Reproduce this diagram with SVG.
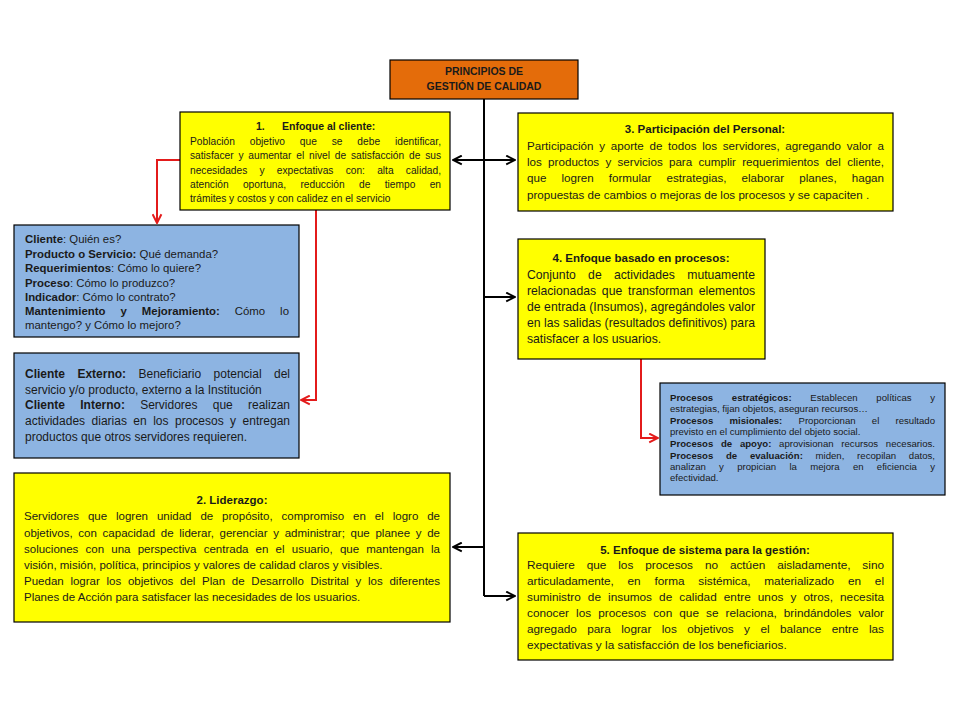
<svg xmlns="http://www.w3.org/2000/svg" width="960" height="720" viewBox="0 0 960 720">
<style>
.box{stroke:#000;stroke-width:1.2}
.y{fill:#FFFF00}
.b{fill:#8DB4E2}
.o{fill:#E46C0A}
text{font-family:"Liberation Sans",Arial,sans-serif;fill:#1a1a1a}
.t{font-weight:bold}
.c{text-anchor:middle}
.f1{font-size:10.2px}
.f3{font-size:11.6px}
.fa{font-size:11.4px}
.fb{font-size:12px}
.f4{font-size:12.2px}
.fp{font-size:9.6px}
.f2{font-size:11.5px}
.f5{font-size:11.8px}
.s105{font-size:10.5px}
.s11{font-size:11.5px}
.bl{stroke:#000;stroke-width:2;fill:none}
.rd{stroke:#E31B1B;stroke-width:2;fill:none}
</style>
<defs>
<marker id="ab" viewBox="0 0 10 10" refX="9" refY="5" markerWidth="11" markerHeight="11" markerUnits="userSpaceOnUse" orient="auto-start-reverse">
<path d="M1,1 L9,5 L1,9" fill="none" stroke="#000" stroke-width="1.8"/>
</marker>
<marker id="ar" viewBox="0 0 10 10" refX="9" refY="5" markerWidth="11" markerHeight="11" markerUnits="userSpaceOnUse" orient="auto-start-reverse">
<path d="M1,1 L9,5 L1,9" fill="none" stroke="#E31B1B" stroke-width="1.8"/>
</marker>
</defs>
<rect width="960" height="720" fill="#fff"/>

<g id="connectors">
<path class="bl" d="M484,99 V596"/>
<path class="bl" d="M453,160 H515" marker-start="url(#ab)" marker-end="url(#ab)"/>
<path class="bl" d="M484,297 H515" marker-end="url(#ab)"/>
<path class="bl" d="M484,547 H453" marker-end="url(#ab)"/>
<path class="bl" d="M484,596 H515" marker-end="url(#ab)"/>
<path class="rd" d="M180,160 H157 V223" marker-end="url(#ar)"/>
<path class="rd" d="M316,210 V400 H301" marker-end="url(#ar)"/>
<path class="rd" d="M641,359 V438 H658" marker-end="url(#ar)"/>
</g>

<g id="titulo">
<rect class="box o" x="390" y="60" width="188" height="39"/>
<text class="t c s105" x="484" y="75">PRINCIPIOS DE</text>
<text class="t c s105" x="484" y="90">GESTIÓN DE CALIDAD</text>
</g>

<g id="p1">
<rect class="box y" x="180" y="112" width="270" height="98"/>
<text class="t s105" x="256" y="130">1.</text>
<text class="t s105" x="282" y="130">Enfoque al cliente:</text>
<text class="f1" x="190" y="145" word-spacing="12" textLength="251" lengthAdjust="spacing">Población objetivo que se debe identificar,</text>
<text class="f1" x="190" y="159" word-spacing="2" textLength="251" lengthAdjust="spacing">satisfacer y aumentar el nivel de satisfacción de sus</text>
<text class="f1" x="190" y="174" word-spacing="9.4" textLength="251" lengthAdjust="spacing">necesidades y expectativas con: alta calidad,</text>
<text class="f1" x="190" y="188" word-spacing="11.5" textLength="251" lengthAdjust="spacing">atención oportuna, reducción de tiempo en</text>
<text class="f1" x="190" y="202">trámites y costos y con calidez en el servicio</text>
</g>

<g id="p3">
<rect class="box y" x="518" y="113" width="375" height="98"/>
<text class="t c s11" x="705" y="133">3. Participación  del Personal:</text>
<text class="f3" x="527" y="150" word-spacing="2.5" textLength="357" lengthAdjust="spacing">Participación y aporte de todos los servidores, agregando valor a</text>
<text class="f3" x="527" y="166" word-spacing="3" textLength="357" lengthAdjust="spacing">los productos y servicios para cumplir requerimientos del cliente,</text>
<text class="f3" x="527" y="182" word-spacing="11.9" textLength="357" lengthAdjust="spacing">que logren formular estrategias, elaborar planes, hagan</text>
<text class="f3" x="527" y="199">propuestas de cambios o mejoras de los procesos y se capaciten .</text>
</g>

<g id="cliente">
<rect class="box b" x="14" y="225" width="285" height="112"/>
<text class="fa" x="25" y="243"><tspan class="t">Cliente</tspan>: Quién es?</text>
<text class="fa" x="25" y="258"><tspan class="t">Producto o Servicio:</tspan> Qué demanda?</text>
<text class="fa" x="25" y="272"><tspan class="t">Requerimientos</tspan>: Cómo lo quiere?</text>
<text class="fa" x="25" y="287"><tspan class="t">Proceso</tspan>: Cómo lo produzco?</text>
<text class="fa" x="25" y="301"><tspan class="t">Indicador</tspan>:  Cómo lo contrato?</text>
<text class="fa" x="25" y="315" word-spacing="11.8" textLength="264" lengthAdjust="spacing"><tspan class="t">Mantenimiento y Mejoramiento:</tspan> Cómo lo</text>
<text class="fa" x="25" y="329">mantengo?  y Cómo lo mejoro?</text>
</g>

<g id="tipos-cliente">
<rect class="box b" x="14" y="353" width="285" height="105"/>
<text class="fb" x="25" y="378" word-spacing="9" textLength="265" lengthAdjust="spacing"><tspan class="t">Cliente Externo:</tspan> Beneficiario potencial del</text>
<text class="fb" x="25" y="394">servicio y/o producto, externo a la Institución</text>
<text class="fb" x="25" y="409" word-spacing="11.9" textLength="265" lengthAdjust="spacing"><tspan class="t">Cliente Interno:</tspan> Servidores que realizan</text>
<text class="fb" x="25" y="425" word-spacing="3.1" textLength="265" lengthAdjust="spacing">actividades diarias en los procesos y entregan</text>
<text class="fb" x="25" y="441">productos que otros servidores requieren.</text>
</g>

<g id="p4">
<rect class="box y" x="518" y="239" width="247" height="120"/>
<text class="t c s11" x="641" y="262">4. Enfoque basado  en procesos:</text>
<text class="f4" x="527" y="279" word-spacing="8.9" textLength="228" lengthAdjust="spacing">Conjunto de actividades mutuamente</text>
<text class="f4" x="527" y="295" word-spacing="2.5" textLength="228" lengthAdjust="spacing">relacionadas que transforman elementos</text>
<text class="f4" x="527" y="311" textLength="228" lengthAdjust="spacing">de entrada (Insumos), agregándoles valor</text>
<text class="f4" x="527" y="327" textLength="228" lengthAdjust="spacing">en las salidas (resultados definitivos) para</text>
<text class="f4" x="527" y="343">satisfacer a los usuarios.</text>
</g>

<g id="procesos">
<rect class="box b" x="660" y="383" width="285" height="112"/>
<text class="fp" x="670" y="401" word-spacing="16" textLength="265" lengthAdjust="spacing"><tspan class="t">Procesos estratégicos:</tspan> Establecen políticas y</text>
<text class="fp" x="670" y="412">estrategias, fijan objetos, aseguran recursos…</text>
<text class="fp" x="670" y="424" word-spacing="13.5" textLength="265" lengthAdjust="spacing"><tspan class="t">Procesos misionales:</tspan> Proporcionan el resultado</text>
<text class="fp" x="670" y="435">previsto en el cumplimiento del objeto social.</text>
<text class="fp" x="670" y="447" word-spacing="5" textLength="265" lengthAdjust="spacing"><tspan class="t">Procesos de apoyo:</tspan> aprovisionan recursos necesarios.</text>
<text class="fp" x="670" y="459" word-spacing="10" textLength="265" lengthAdjust="spacing"><tspan class="t">Procesos de evaluación:</tspan> miden, recopilan datos,</text>
<text class="fp" x="670" y="470" word-spacing="10.6" textLength="265" lengthAdjust="spacing">analizan y propician la mejora en eficiencia y</text>
<text class="fp" x="670" y="481">efectividad.</text>
</g>

<g id="p2">
<rect class="box y" x="14" y="473" width="436" height="149"/>
<text class="t c s11" x="232" y="504">2. Liderazgo:</text>
<text class="f2" x="24" y="520" word-spacing="5.7" textLength="416" lengthAdjust="spacing">Servidores que logren unidad de propósito, compromiso en el logro de</text>
<text class="f2" x="24" y="537" word-spacing="2.5" textLength="416" lengthAdjust="spacing">objetivos, con capacidad de liderar, gerenciar y administrar; que planee y de</text>
<text class="f2" x="24" y="553" word-spacing="4" textLength="416" lengthAdjust="spacing">soluciones con una perspectiva centrada en el usuario, que mantengan la</text>
<text class="f2" x="24" y="569">visión, misión,  política, principios y valores de calidad claros y visibles.</text>
<text class="f2" x="24" y="585" word-spacing="3.5" textLength="416" lengthAdjust="spacing">Puedan lograr los objetivos del Plan de Desarrollo Distrital y los diferentes</text>
<text class="f2" x="24" y="601">Planes de Acción para satisfacer las necesidades de los usuarios.</text>
</g>

<g id="p5">
<rect class="box y" x="518" y="533" width="375" height="127"/>
<text class="t c s11" x="705" y="554">5. Enfoque de sistema para la gestión:</text>
<text class="f5" x="527" y="569" word-spacing="8.6" textLength="357" lengthAdjust="spacing">Requiere que los procesos no actúen aisladamente, sino</text>
<text class="f5" x="527" y="585" word-spacing="10.6" textLength="357" lengthAdjust="spacing">articuladamente, en forma sistémica, materializado en el</text>
<text class="f5" x="527" y="601" word-spacing="3.8" textLength="357" lengthAdjust="spacing">suministro de insumos de calidad entre unos y otros, necesita</text>
<text class="f5" x="527" y="617" word-spacing="3.8" textLength="357" lengthAdjust="spacing">conocer los procesos con que se relaciona, brindándoles valor</text>
<text class="f5" x="527" y="633" word-spacing="7.1" textLength="357" lengthAdjust="spacing">agregado para lograr los objetivos y el balance entre las</text>
<text class="f5" x="527" y="649">expectativas y la satisfacción de los beneficiarios.</text>
</g>
</svg>
